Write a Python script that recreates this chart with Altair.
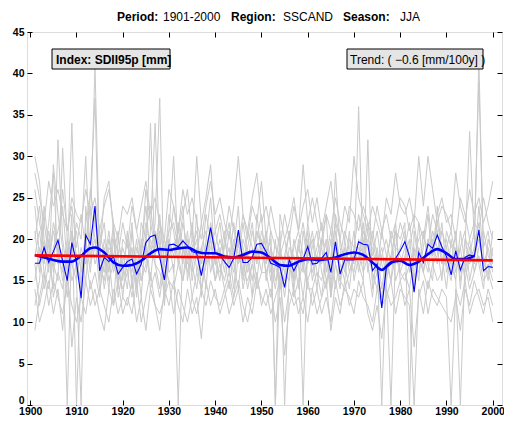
import altair as alt
import pandas as pd

FONT = "Liberation Sans"

years = list(range(1901, 2001))

regional_mean = [
    17.1, 17.1, 19.0, 17.2, 18.5, 19.9, 17.4, 15.0, 19.6, 17.2,
    12.9, 20.5, 19.4, 24.0, 16.2, 17.8, 17.3, 17.9, 15.8, 16.6,
    17.3, 17.6, 15.8, 17.0, 19.6, 20.3, 20.5, 17.8, 15.1, 19.3,
    19.4, 19.1, 19.8, 19.2, 18.5, 18.3, 15.6, 18.5, 21.4, 18.3,
    18.1, 17.3, 16.6, 17.7, 21.1, 17.2, 17.2, 17.8, 19.4, 19.5,
    18.5, 17.1, 16.9, 16.6, 14.2, 17.5, 16.2, 17.3, 17.6, 19.1,
    17.0, 17.1, 17.7, 18.4, 16.0, 19.7, 15.8, 17.5, 17.5, 17.5,
    19.7, 19.4, 19.3, 16.2, 17.0, 11.7, 16.6, 17.0, 17.7, 18.6,
    19.7, 17.9, 13.6, 18.4, 17.2, 19.4, 18.9, 20.5, 19.1, 17.9,
    15.7, 18.6, 16.3, 17.8, 18.1, 17.9, 21.1, 16.2, 16.7, 16.6,
]

smooth_years = [1901, 1903, 1905, 1907, 1909, 1911, 1913, 1914, 1916, 1918,
                1920, 1922, 1924, 1926, 1928, 1930, 1932, 1934, 1936, 1938,
                1940, 1942, 1944, 1946, 1948, 1950, 1952, 1954, 1956, 1958,
                1960, 1962, 1964, 1966, 1968, 1970, 1972, 1974, 1976, 1978,
                1980, 1982, 1984, 1986, 1988, 1990, 1992, 1994, 1996]
smooth_values = [18.1, 17.8, 17.5, 17.3, 17.3, 18.0, 18.9, 19.0, 18.4, 17.2,
                 16.8, 16.9, 17.4, 18.3, 18.8, 18.7, 18.9, 19.0, 18.5, 18.3,
                 18.3, 17.9, 17.8, 18.1, 18.5, 18.4, 17.7, 16.9, 16.8, 17.3,
                 17.6, 17.5, 17.6, 17.8, 18.2, 18.4, 18.1, 17.2, 16.3, 17.2,
                 17.4, 16.9, 17.3, 18.2, 18.8, 18.3, 17.6, 17.6, 18.0]

trend_years = [1901, 2000]
trend_values = [18.05, 17.45]

station_01 = [26, 22, 19, 17, 21, 18, 16, 20, 17, 15, 19, 17, 21, 41, 18, 16, 20, 17, 15, 18,
              16, 19, 14, 18, 22, 19, 17, 16, 14, 20, 18, 21, 19, 16, 18, 20, 14, 17, 22, 19,
              17, 15, 18, 16, 20, 18, 14, 17, 21, 19, 16, 18, 15, 17, 13, 18, 16, 19, 17, 21,
              15, 18, 17, 20, 14, 19, 16, 18, 17, 16, 20, 18, 21, 15, 17, 12, 16, 18, 17, 19,
              21, 18, 14, 19, 17, 20, 18, 22, 19, 17, 15, 19, 16, 18, 17, 19, 22, 16, 17, 15]
station_02 = [30, 27, 20, 16, 29, 23, 19, 0, 21, 18, 14, 22, 25, 37, 15, 20, 17, 22, 13, 16,
              20, 15, 18, 13, 21, 24, 19, 22, 17, 23, 21, 17, 22, 19, 16, 23, 13, 20, 25, 17,
              20, 18, 14, 19, 24, 15, 19, 22, 17, 21, 19, 15, 20, 14, 18, 21, 15, 20, 16, 22,
              18, 14, 20, 23, 13, 21, 17, 15, 20, 19, 23, 20, 17, 13, 19, 14, 18, 15, 21, 16,
              18, 20, 15, 22, 16, 19, 23, 21, 17, 20, 17, 21, 14, 20, 19, 17, 24, 18, 15, 19]
station_03 = [12, 15, 22, 18, 14, 32, 20, 16, 23, 0, 17, 20, 16, 23, 19, 14, 18, 12, 20, 17,
              14, 21, 16, 19, 24, 18, 22, 37, 13, 19, 24, 20, 17, 21, 15, 19, 17, 23, 20, 15,
              19, 16, 21, 17, 14, 20, 18, 13, 23, 18, 21, 17, 14, 19, 16, 15, 20, 17, 13, 18,
              20, 16, 13, 18, 21, 17, 14, 20, 16, 18, 17, 21, 19, 16, 14, 18, 20, 17, 22, 15,
              16, 14, 18, 20, 21, 17, 15, 24, 18, 14, 20, 16, 19, 15, 18, 21, 17, 14, 20, 18]
station_04 = [18, 21, 16, 14, 19, 21, 24, 17, 34, 15, 0, 24, 18, 20, 14, 17, 21, 16, 18, 13,
              18, 16, 20, 15, 17, 21, 34, 18, 20, 16, 17, 0, 20, 18, 22, 16, 19, 14, 21, 18,
              15, 20, 17, 22, 18, 16, 21, 19, 15, 20, 18, 20, 0, 16, 15, 19, 18, 14, 21, 17,
              19, 21, 16, 14, 18, 22, 15, 19, 17, 21, 16, 19, 22, 18, 21, 17, 15, 0, 19, 22,
              20, 16, 19, 15, 21, 18, 20, 17, 21, 19, 16, 17, 19, 21, 15, 18, 20, 17, 16, 21]
station_05 = [21, 16, 24, 19, 17, 15, 31, 20, 18, 22, 20, 30, 17, 19, 21, 18, 14, 20, 16, 19,
              17, 22, 13, 20, 18, 34, 17, 14, 19, 21, 30, 18, 15, 20, 17, 14, 19, 21, 16, 19,
              22, 17, 19, 14, 21, 19, 16, 18, 20, 23, 15, 19, 17, 21, 0, 16, 19, 21, 18, 15,
              17, 19, 22, 16, 20, 14, 18, 21, 19, 17, 36, 17, 20, 19, 16, 21, 18, 20, 15, 17,
              19, 22, 17, 16, 19, 23, 17, 18, 22, 16, 18, 15, 21, 17, 20, 16, 19, 21, 18, 17]
station_06 = [15, 19, 17, 21, 16, 19, 15, 18, 21, 16, 18, 15, 21, 17, 19, 22, 16, 21, 14, 20,
              19, 18, 15, 22, 20, 15, 21, 19, 17, 20, 16, 22, 19, 17, 20, 18, 22, 17, 19, 21,
              18, 21, 16, 20, 17, 22, 18, 15, 19, 16, 20, 16, 18, 15, 17, 21, 14, 18, 0, 20,
              16, 18, 20, 19, 15, 23, 20, 17, 14, 19, 19, 16, 18, 21, 18, 0, 17, 21, 19, 18,
              17, 19, 22, 18, 16, 20, 18, 21, 17, 19, 21, 18, 17, 16, 19, 18, 42, 17, 19, 16]
station_07 = [24, 18, 14, 17, 22, 19, 17, 13, 19, 21, 16, 19, 24, 20, 17, 15, 19, 18, 21, 15,
              21, 14, 19, 17, 16, 20, 18, 21, 12, 18, 19, 21, 24, 15, 19, 21, 16, 18, 20, 17,
              16, 19, 22, 18, 20, 14, 17, 21, 18, 19, 17, 21, 19, 18, 20, 17, 15, 19, 22, 18,
              21, 17, 19, 15, 17, 28, 19, 16, 21, 15, 18, 22, 16, 20, 17, 19, 15, 18, 21, 20,
              22, 0, 21, 17, 18, 16, 21, 19, 15, 21, 19, 20, 15, 19, 33, 20, 39, 19, 21, 17]
station_08 = [9, 13, 16, 12, 15, 13, 11, 15, 12, 10, 13, 11, 15, 12, 14, 12, 10, 14, 11, 13,
              12, 15, 10, 13, 9, 14, 12, 11, 13, 15, 11, 14, 12, 10, 13, 11, 14, 12, 15, 13,
              12, 14, 11, 13, 15, 12, 10, 13, 16, 12, 14, 11, 13, 15, 10, 14, 12, 13, 11, 15,
              12, 14, 11, 13, 10, 15, 12, 14, 13, 11, 15, 13, 12, 10, 14, 12, 13, 15, 11, 14,
              13, 12, 0, 14, 11, 15, 13, 12, 14, 13, 0, 14, 12, 15, 11, 13, 14, 12, 13, 10]
station_09 = [17, 12, 15, 20, 13, 16, 14, 19, 15, 17, 15, 18, 14, 16, 13, 19, 15, 17, 16, 14,
              16, 13, 17, 15, 19, 14, 16, 13, 17, 15, 14, 17, 15, 18, 13, 16, 14, 17, 18, 15,
              17, 14, 16, 13, 18, 16, 15, 17, 14, 16, 16, 13, 17, 14, 16, 18, 13, 15, 17, 14,
              14, 16, 15, 18, 13, 17, 15, 14, 16, 18, 17, 15, 32, 14, 16, 13, 17, 15, 18, 16,
              15, 17, 14, 18, 16, 14, 17, 15, 16, 18, 17, 15, 0, 17, 14, 16, 18, 15, 16, 14]
station_10 = [28, 25, 22, 27, 24, 26, 23, 21, 25, 23, 22, 26, 23, 25, 21, 24, 26, 22, 20, 24,
              23, 25, 21, 24, 27, 23, 25, 22, 20, 26, 24, 21, 26, 23, 25, 22, 20, 24, 27, 23,
              25, 22, 20, 24, 30, 23, 21, 25, 28, 22, 24, 21, 0, 23, 20, 22, 25, 21, 24, 26,
              22, 25, 21, 24, 27, 22, 20, 24, 22, 30, 25, 23, 21, 24, 22, 20, 25, 23, 28, 24,
              23, 25, 22, 30, 24, 30, 26, 22, 24, 23, 21, 28, 24, 22, 26, 23, 25, 22, 24, 27]
station_11 = [14, 10, 12, 15, 11, 14, 9, 16, 7, 13, 10, 15, 12, 14, 11, 9, 14, 12, 15, 11,
              13, 11, 15, 10, 13, 16, 12, 9, 14, 12, 15, 12, 10, 14, 11, 13, 8, 15, 12, 14,
              11, 13, 15, 12, 14, 10, 13, 11, 15, 13, 12, 14, 10, 13, 6, 12, 14, 11, 13, 10,
              14, 11, 13, 15, 9, 13, 11, 15, 12, 14, 13, 15, 11, 9, 12, 8, 14, 12, 13, 15,
              12, 14, 7, 13, 15, 11, 14, 13, 12, 11, 10, 13, 9, 14, 12, 15, 13, 11, 14, 12]
station_12 = [20, 24, 18, 22, 28, 17, 26, 21, 24, 19, 23, 19, 26, 22, 18, 25, 27, 21, 18, 22,
              19, 24, 21, 18, 26, 22, 19, 23, 17, 21, 22, 19, 23, 26, 20, 30, 22, 25, 29, 21,
              23, 20, 24, 21, 19, 23, 20, 24, 22, 27, 20, 24, 21, 19, 23, 20, 24, 21, 29, 22,
              25, 22, 19, 23, 21, 25, 22, 20, 24, 23, 21, 24, 22, 20, 24, 21, 23, 20, 22, 25,
              24, 21, 23, 22, 20, 24, 19, 23, 25, 22, 23, 20, 25, 23, 20, 22, 21, 25, 22, 20]

stations = [station_01, station_02, station_03, station_04, station_05, station_06,
            station_07, station_08, station_09, station_10, station_11, station_12]

x_ticks = list(range(1900, 2001, 10))
y_ticks = list(range(0, 46, 5))
y_label_ticks = list(range(5, 46, 5))
y_zero_tick = [0]

title_parts = [("Period:", True), ("1901-2000", False), ("Region:", True),
               ("SSCAND", False), ("Season:", True), ("JJA", False)]
index_label = "Index: SDII95p [mm]"
trend_label = "Trend: ( \u22120.6 [mm/100y] )"

# ---------- tables ----------
gray_rows = []
for i, s in enumerate(stations):
    for yr, v in zip(years, s):
        gray_rows.append({"year": yr, "value": v, "station": f"s{i}"})
gray_df = pd.DataFrame(gray_rows)
mean_df = pd.DataFrame({"year": years, "value": regional_mean})
smooth_df = pd.DataFrame({"year": smooth_years, "value": smooth_values})
trend_df = pd.DataFrame({"year": trend_years, "value": trend_values})
one = pd.DataFrame({"a": [0]})

W, H = 475, 373
DX = 3  # horizontal compensation so texts keep their page position
xscale = alt.Scale(domain=[1899.3, 2002.0], nice=False, zero=False)
yscale = alt.Scale(domain=[0, 45], nice=False, zero=False)


def axis(orient, labels, tick, offset=0, vals=None, pad=3, baseline=None):
    kw = dict(orient=orient, values=vals, labels=labels, tickSize=tick, domain=False,
              grid=False, title=None, ticks=tick > 0, tickColor="black", tickWidth=1)
    if offset:
        kw["offset"] = offset
    if labels:
        kw.update(labelFont=FONT, labelFontSize=10.5, labelFontWeight="bold",
                  labelColor="black", labelPadding=pad, format="d")
    if baseline:
        kw["labelBaseline"] = baseline
    return alt.Axis(**kw)


gray = alt.Chart(gray_df).mark_line(color="#cacaca", strokeWidth=1).encode(
    x=alt.X("year:Q", scale=xscale, axis=axis("bottom", True, 0, vals=x_ticks, pad=1)),
    y=alt.Y("value:Q", scale=yscale, axis=axis("left", True, 0, vals=y_label_ticks, pad=3)),
    detail="station:N",
)

blue = alt.Chart(mean_df).mark_line(color="#0000ff", strokeWidth=1.1).encode(
    x=alt.X("year:Q", scale=xscale, axis=axis("top", False, 5, offset=-H, vals=x_ticks)),
    y=alt.Y("value:Q", scale=yscale, axis=axis("right", False, 5, offset=-W, vals=y_ticks)),
)

smooth = alt.Chart(smooth_df).mark_line(color="#0000ff", strokeWidth=2.6,
                                        interpolate="monotone").encode(
    x=alt.X("year:Q", scale=xscale, axis=axis("bottom", False, 5, offset=-H, vals=x_ticks)),
    y=alt.Y("value:Q", scale=yscale, axis=axis("left", False, 5, offset=-W, vals=y_ticks)),
)

trend = alt.Chart(trend_df).mark_line(color="#ff0000", strokeWidth=2.6).encode(
    x=alt.X("year:Q", scale=xscale, axis=None),
    y=alt.Y("value:Q", scale=yscale,
            axis=axis("left", True, 0, vals=y_zero_tick, pad=3, baseline="bottom")),
)

# annotation boxes
box1 = alt.Chart(one).mark_rect(fill="#e5e5e5", stroke="black", strokeWidth=1).encode(
    x=alt.value(22 + DX), x2=alt.value(140 + DX), y=alt.value(17), y2=alt.value(37))
txt1 = alt.Chart(one).mark_text(text=index_label, font=FONT, fontSize=12, fontWeight="bold",
                                align="left", baseline="middle", color="black").encode(
    x=alt.value(26 + DX), y=alt.value(27.5))
box2 = alt.Chart(one).mark_rect(fill="#e5e5e5", stroke="black", strokeWidth=1).encode(
    x=alt.value(317 + DX), x2=alt.value(453 + DX), y=alt.value(17), y2=alt.value(37))
txt2 = alt.Chart(one).mark_text(text=trend_label, font=FONT, fontSize=12,
                                align="left", baseline="middle", color="black").encode(
    x=alt.value(320 + DX), y=alt.value(27.5))

title_x = [87, 133, 201, 253, 313, 370]
title_layers = []
for (t, b), xp in zip(title_parts, title_x):
    title_layers.append(
        alt.Chart(one).mark_text(text=t, font=FONT, fontSize=12,
                                 fontWeight="bold" if b else "normal",
                                 align="left", baseline="middle", color="black").encode(
            x=alt.value(xp + DX), y=alt.value(-15)))

chart = alt.layer(gray, blue, smooth, trend, box1, txt1, box2, txt2, *title_layers).resolve_axis(
    x="independent", y="independent"
).properties(
    width=W, height=H,
    autosize=alt.AutoSizeParams(type="none"),
    padding={"left": 19, "top": 24, "right": 2, "bottom": 10},
).configure_view(stroke="black", strokeWidth=1.5).configure(background="white")

chart.save("out.html", embed_options={"renderer": "svg", "actions": False})
